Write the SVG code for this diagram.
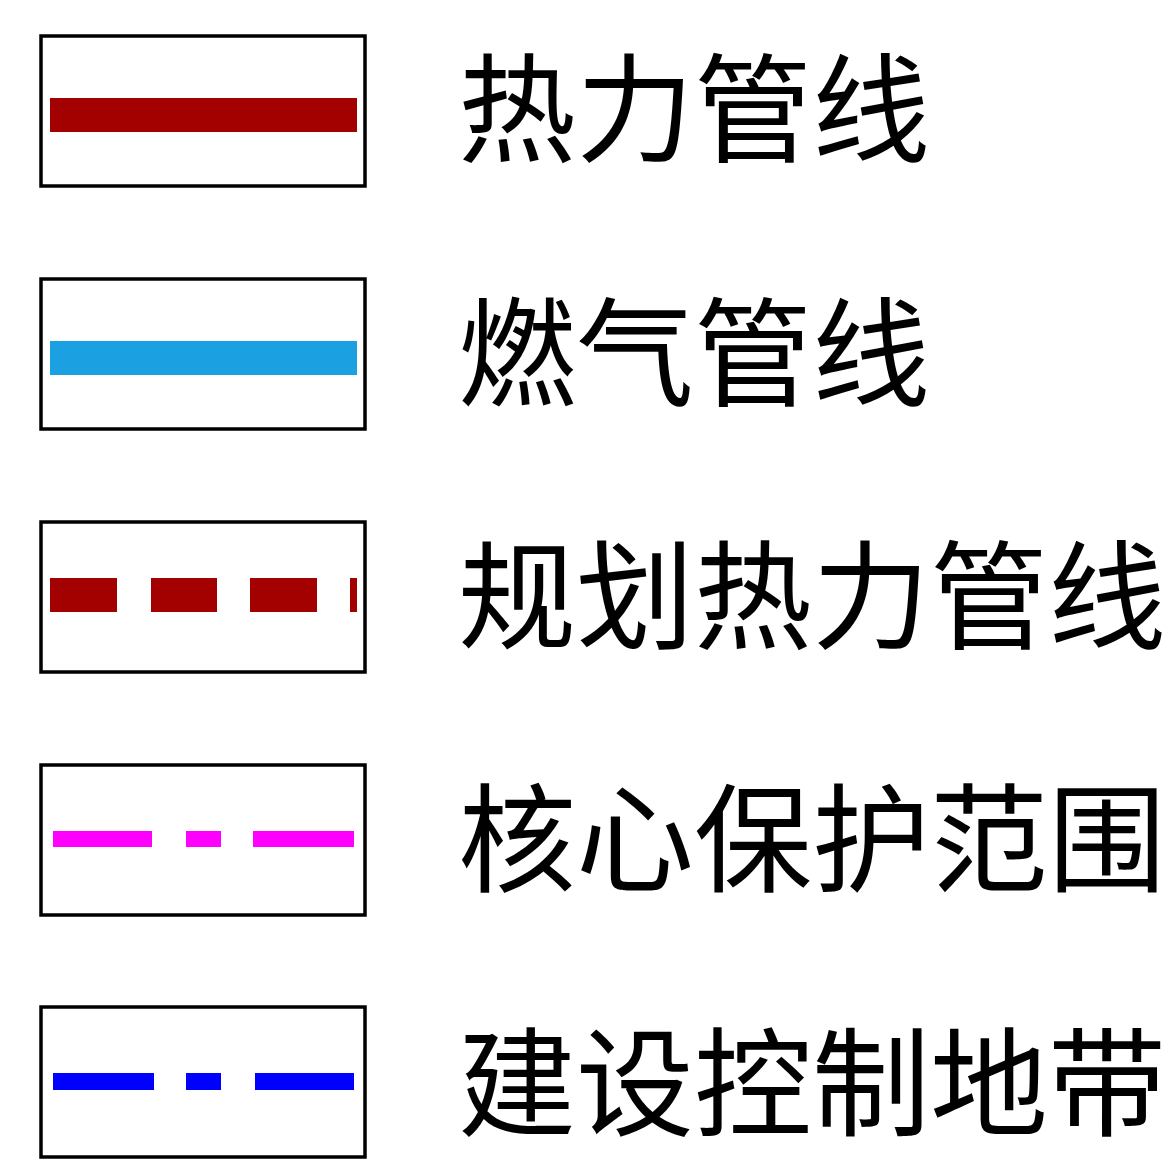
<svg xmlns="http://www.w3.org/2000/svg" width="1168" height="1169" viewBox="0 0 1168 1169">
<style>
.box{fill:#fff;stroke:#000;stroke-width:3.5}
.lbl{font-family:"Noto Sans CJK SC","Microsoft YaHei",sans-serif;font-size:118px;fill:#000}
</style>
<rect width="1168" height="1169" fill="#fff"/>
<g id="item1">
<rect class="box" x="41" y="36" width="324" height="150"/>
<rect x="50" y="98" width="307" height="34" fill="#A30000"/>
<text class="lbl" x="458" y="153">热力管线</text>
</g>
<g id="item2">
<rect class="box" x="41" y="279" width="324" height="150"/>
<rect x="50" y="341" width="307" height="34" fill="#1BA1E2"/>
<text class="lbl" x="458" y="397">燃气管线</text>
</g>
<g id="item3">
<rect class="box" x="41" y="522" width="324" height="150"/>
<g fill="#A30000">
<rect x="50" y="578" width="67" height="34"/>
<rect x="151" y="578" width="66" height="34"/>
<rect x="250" y="578" width="67" height="34"/>
<rect x="350" y="578" width="7" height="34"/>
</g>
<text class="lbl" x="458" y="640">规划热力管线</text>
</g>
<g id="item4">
<rect class="box" x="41" y="765" width="324" height="150"/>
<g fill="#FF00FF">
<rect x="53" y="831" width="99" height="16"/>
<rect x="186" y="831" width="35" height="16"/>
<rect x="253" y="831" width="101" height="16"/>
</g>
<text class="lbl" x="458" y="883">核心保护范围</text>
</g>
<g id="item5">
<rect class="box" x="41" y="1007" width="324" height="150"/>
<g fill="#0000FF">
<rect x="53" y="1073" width="101" height="17"/>
<rect x="186" y="1073" width="35" height="17"/>
<rect x="255" y="1073" width="99" height="17"/>
</g>
<text class="lbl" x="458" y="1127">建设控制地带</text>
</g>
</svg>
